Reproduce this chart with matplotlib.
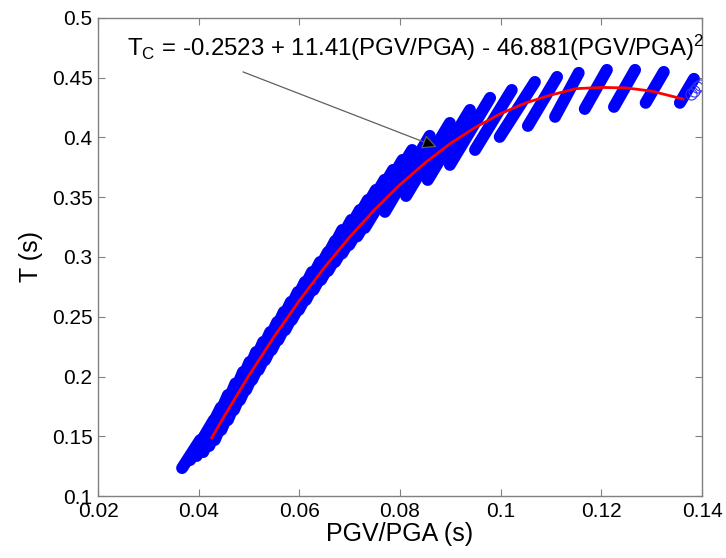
import matplotlib.pyplot as plt
import numpy as np

plt.rcParams['font.family'] = ['Liberation Sans', 'DejaVu Sans']
plt.rcParams['mathtext.default'] = 'regular'

# ─── Data ──────────────────────────────────────────────────────────────────────
# each streak of overlapping circle markers: lower end -> upper end (PGV/PGA, T)
streak_x_lo = [0.1356, 0.1288, 0.1225, 0.1167, 0.1108, 0.1054, 0.0998, 0.0949,
               0.0899, 0.0855, 0.0812, 0.0770, 0.0730, 0.0715, 0.0699, 0.0685,
               0.0671, 0.0657, 0.0643, 0.0628, 0.0613, 0.0599, 0.0585, 0.0572,
               0.0558, 0.0545, 0.0532, 0.0519, 0.0506, 0.0494, 0.0482, 0.0470,
               0.0458, 0.0445, 0.0432, 0.0421, 0.0409, 0.0396, 0.0383, 0.0367]
streak_y_lo = [0.4289, 0.4289, 0.4255, 0.4238, 0.4172, 0.4096, 0.4004, 0.3895,
               0.3770, 0.3644, 0.3510, 0.3377, 0.3243, 0.3172, 0.3100, 0.3029,
               0.2958, 0.2883, 0.2808, 0.2724, 0.2640, 0.2557, 0.2473, 0.2389,
               0.2305, 0.2222, 0.2138, 0.2055, 0.1971, 0.1887, 0.1803, 0.1720,
               0.1636, 0.1553, 0.1469, 0.1419, 0.1368, 0.1335, 0.1301, 0.1234]
streak_x_hi = [0.1384, 0.1324, 0.1267, 0.1211, 0.1155, 0.1112, 0.1068, 0.1022,
               0.0979, 0.0939, 0.0899, 0.0859, 0.0824, 0.0805, 0.0786, 0.0769,
               0.0752, 0.0736, 0.0720, 0.0703, 0.0685, 0.0671, 0.0657, 0.0641,
               0.0625, 0.0611, 0.0597, 0.0583, 0.0569, 0.0556, 0.0542, 0.0528,
               0.0514, 0.0501, 0.0488, 0.0473, 0.0458, 0.0444, 0.0430, 0.0403]
streak_y_hi = [0.4490, 0.4548, 0.4565, 0.4565, 0.4540, 0.4506, 0.4464, 0.4397,
               0.4331, 0.4230, 0.4121, 0.4013, 0.3895, 0.3812, 0.3728, 0.3645,
               0.3561, 0.3477, 0.3393, 0.3310, 0.3226, 0.3134, 0.3042, 0.2958,
               0.2874, 0.2791, 0.2707, 0.2624, 0.2540, 0.2456, 0.2372, 0.2289,
               0.2205, 0.2122, 0.2038, 0.1942, 0.1845, 0.1741, 0.1636, 0.1469]

# open circles trailing the last streak
tail_x = [0.1378, 0.1384, 0.1390, 0.1396]
tail_y = [0.4360, 0.4390, 0.4418, 0.4442]

# fitted curve
fit_x = [0.0426, 0.045, 0.050, 0.055, 0.060, 0.065, 0.070, 0.075, 0.080, 0.085,
         0.090, 0.095, 0.100, 0.105, 0.110, 0.115, 0.120, 0.125, 0.130, 0.1362]
fit_y = [0.1487, 0.1662, 0.2010, 0.2334, 0.2635, 0.2913, 0.3167, 0.3397, 0.3605,
         0.3788, 0.3949, 0.4085, 0.4199, 0.4289, 0.4355, 0.4408, 0.4418, 0.4414,
         0.4387, 0.4321]

x_ticks = [0.02, 0.04, 0.06, 0.08, 0.10, 0.12, 0.14]
x_tick_labels = ["0.02", "0.04", "0.06", "0.08", "0.1", "0.12", "0.14"]
y_ticks = [0.10, 0.15, 0.20, 0.25, 0.30, 0.35, 0.40, 0.45, 0.50]
y_tick_labels = ["0.1", "0.15", "0.2", "0.25", "0.3", "0.35", "0.4", "0.45", "0.5"]

# ─── Figure ────────────────────────────────────────────────────────────────────
fig = plt.figure(figsize=(7.26, 5.58), dpi=100)
ax = fig.add_axes([0.135, 0.111, 0.832, 0.857])

for x0, y0, x1, y1 in zip(streak_x_lo, streak_y_lo, streak_x_hi, streak_y_hi):
    ax.plot([x0, x1], [y0, y1], color="#0000ff", lw=8.6,
            solid_capstyle="round", zorder=2)
ax.plot(tail_x, tail_y, ls="none", marker="o", ms=8, mfc="none",
        mec="#3030ff", mew=0.8, zorder=2)

ax.plot(fit_x, fit_y, color="#ff0000", lw=2.0, zorder=3)

ax.annotate("", xy=(0.0873, 0.3920), xytext=(0.0488, 0.4548),
            arrowprops=dict(arrowstyle="-|>", ec="#606060", fc="black",
                            lw=0.9, mutation_scale=22, shrinkA=0, shrinkB=0),
            zorder=4)
ax.text(0.0258, 0.4749,
        r"T$_{C}$ = -0.2523 + 11.41(PGV/PGA) - 46.881(PGV/PGA)$^{2}$",
        fontsize=17.3, ha="left", va="center", zorder=5)

# ─── Axes styling ──────────────────────────────────────────────────────────────
ax.set_xlim(0.02, 0.14)
ax.set_ylim(0.1, 0.5)
ax.set_xticks(x_ticks)
ax.set_xticklabels(x_tick_labels)
ax.set_yticks(y_ticks)
ax.set_yticklabels(y_tick_labels)
ax.tick_params(direction="in", top=True, right=True, length=5, width=0.8,
               color="#808080", labelsize=15, pad=4)
for sp in ax.spines.values():
    sp.set_color("#808080")
    sp.set_linewidth(1.0)

ax.set_xlabel("PGV/PGA (s)", fontsize=18, labelpad=1)
ax.set_ylabel("T (s)", fontsize=18, labelpad=6)

fig.savefig("out.png", dpi=100)
